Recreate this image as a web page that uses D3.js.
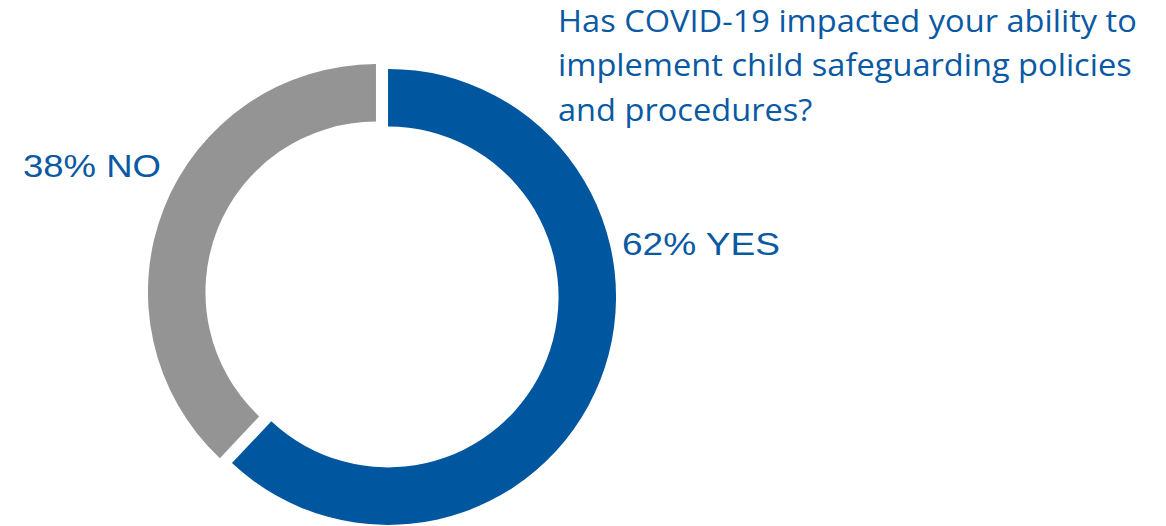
<!DOCTYPE html>
<html>
<head>
<meta charset="utf-8">
<script src="https://cdn.jsdelivr.net/npm/d3@7/dist/d3.min.js"></script>
<style>
  html, body { margin: 0; padding: 0; background: #ffffff; }
  svg { display: block; }
</style>
</head>
<body>
<svg id="chart" width="1166" height="526"></svg>
<script>
// Survey answers
const categories = ["YES", "NO"];
const values = [62, 38];
const titleLines = [
  "Has COVID-19 impacted your ability to",
  "implement child safeguarding policies",
  "and procedures?"
];

const W = 1166, H = 526;
const svg = d3.select("#chart");

const sliceColor = d3.scaleOrdinal().domain(categories).range(["#0156a0", "#949494"]);
const textColor = "#0a59a3";

const center = { x: 382, y: 294.5 };
const outerR = 228, innerR = 170.5, explode = 6.5;

const pie = d3.pie().sort(null).value(d => d.value)
  .startAngle(0).endAngle(2 * Math.PI);
const arcs = pie(categories.map((c, i) => ({ cat: c, value: values[i] })));
const arc = d3.arc().innerRadius(innerR).outerRadius(outerR);

const ring = svg.append("g").attr("transform", `translate(${center.x},${center.y})`);
ring.selectAll("path")
  .data(arcs)
  .join("path")
  .attr("d", arc)
  .attr("fill", d => sliceColor(d.data.cat))
  .attr("transform", d => {
    const mid = (d.startAngle + d.endAngle) / 2;
    return `translate(${Math.sin(mid) * explode},${-Math.cos(mid) * explode})`;
  });

// Percentage labels
const labelPos = { YES: { x: 622, y: 255, w: 158 }, NO: { x: 23, y: 177, w: 138 } };
svg.selectAll("text.pct")
  .data(arcs)
  .join("text")
  .attr("class", "pct")
  .attr("x", d => labelPos[d.data.cat].x)
  .attr("y", d => labelPos[d.data.cat].y)
  .attr("textLength", d => labelPos[d.data.cat].w)
  .attr("lengthAdjust", "spacingAndGlyphs")
  .attr("font-family", "'Liberation Sans', Arial, sans-serif")
  .attr("font-size", 31)
  .attr("fill", textColor)
  .text(d => `${d.data.value}% ${d.data.cat}`);

// Question title, narrowed to the width of its first line
const title = svg.append("g");
const tText = title.selectAll("text")
  .data(titleLines)
  .join("text")
  .attr("x", 0)
  .attr("y", (d, i) => 32 + i * 44.5)
  .attr("font-family", "'Open Sans', 'Noto Sans', sans-serif")
  .attr("font-size", 31)
  .attr("fill", textColor)
  .text(d => d);
const firstW = tText.nodes()[0].getComputedTextLength();
const sx = 579 / firstW;
title.attr("transform", `translate(558,0) scale(${sx},1)`);
</script>
</body>
</html>
